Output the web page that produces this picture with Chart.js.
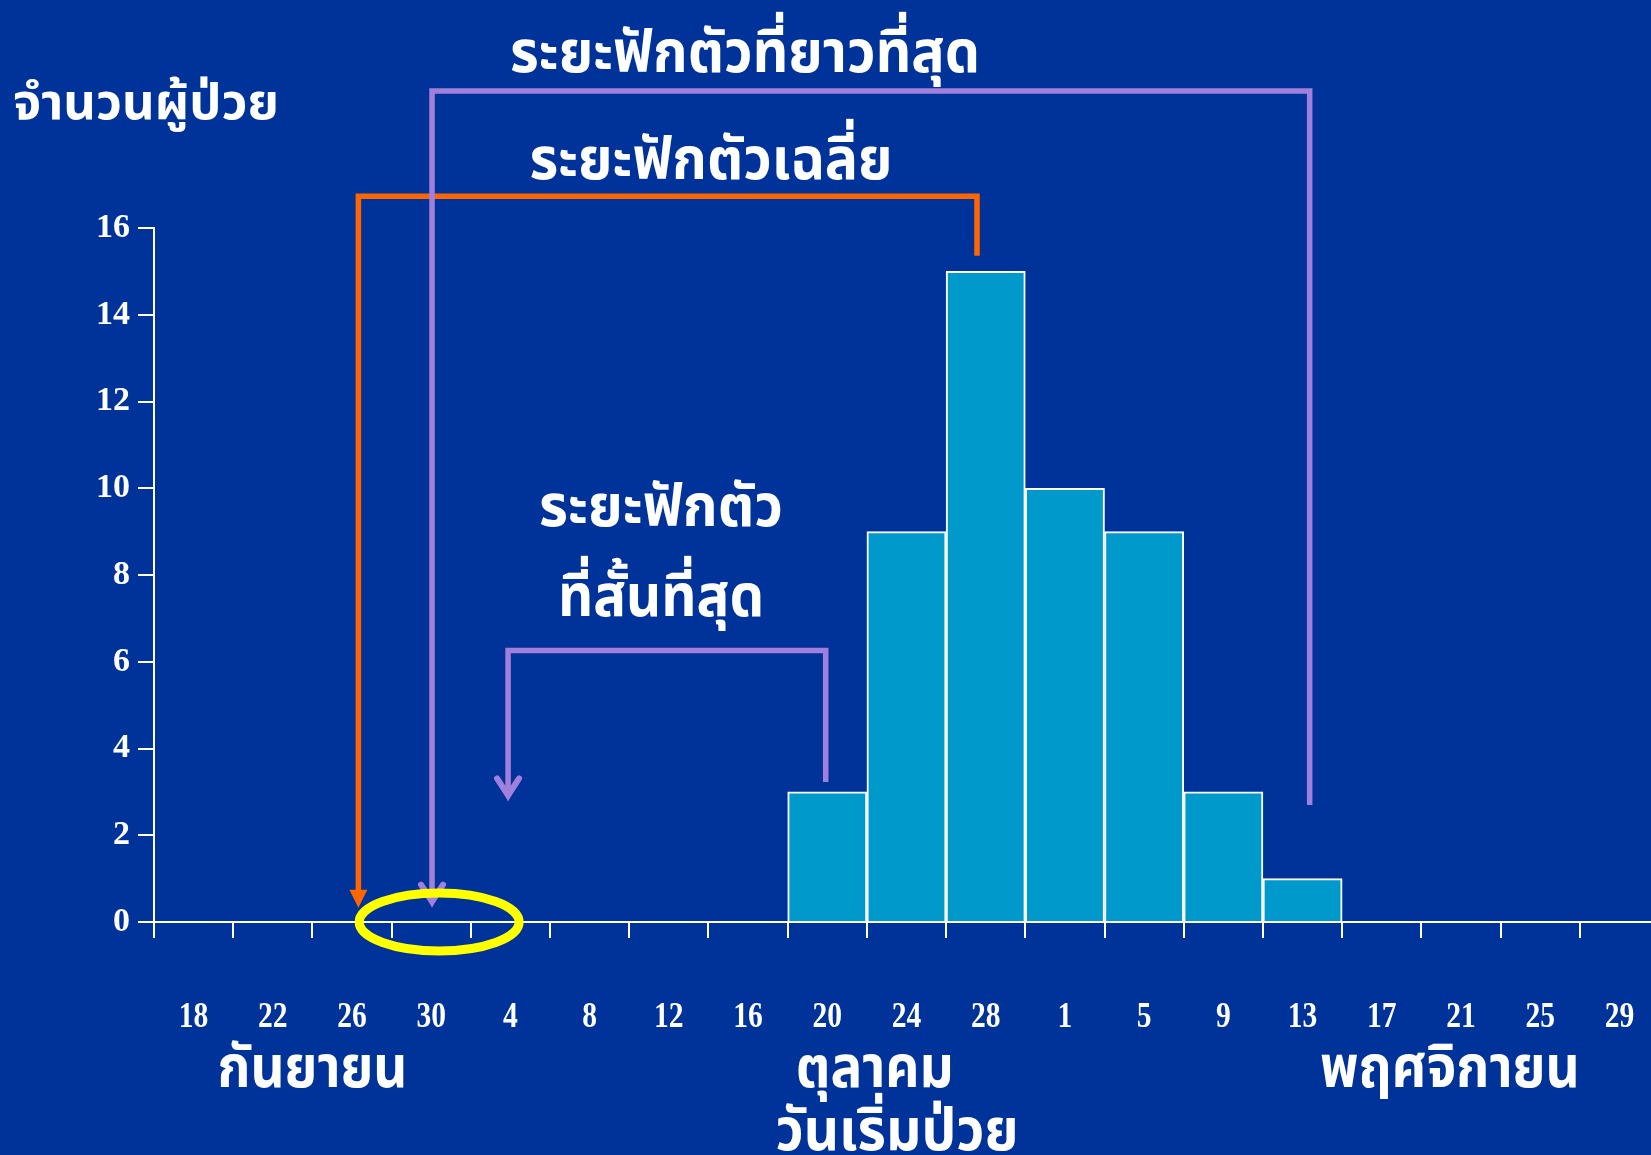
<!DOCTYPE html>
<html lang="th">
<head>
  <meta charset="UTF-8" />
  <title>Epidemic curve</title>
  <script src="https://cdn.jsdelivr.net/npm/chart.js"></script>
  <style>
    html, body { margin: 0; padding: 0; background: #003399; overflow: hidden; }
    #wrap { position: absolute; left: 0; top: 0; width: 1680px; height: 1155px; }
  </style>
</head>
<body>
  <div id="wrap"><canvas id="epiChart" width="1680" height="1155"></canvas></div>

  <script>
    // onset day (4-day bins) and number of patients
    const dayLabels = ['18', '22', '26', '30', '4', '8', '12', '16', '20', '24', '28', '1', '5', '9', '13', '17', '21', '25', '29'];
    const patientCounts = [0, 0, 0, 0, 0, 0, 0, 0, 3, 9, 15, 10, 9, 3, 1, 0, 0, 0, 0];
    const yTickMin = 0, yTickMax = 16, yTickStep = 2;

    const yTitle = 'จำนวนผู้ป่วย';
    const xTitle = 'วันเริ่มป่วย';
    const monthNames = ['กันยายน', 'ตุลาคม', 'พฤศจิกายน'];
    const monthCenters = [1.5, 8.6, 15.86];   // in bin index units

    const thaiFont = '"Noto Sans Thai", "Noto Sans", "DejaVu Sans", sans-serif';
    const numFont = '"Liberation Serif", "Times New Roman", serif';

    // draw text squeezed to a given width, baseline at y
    function squeezeText(ctx, text, cx, baseY, size, width, align) {
      ctx.save();
      ctx.font = 'bold ' + size + 'px ' + thaiFont;
      ctx.fillStyle = '#ffffff';
      ctx.textBaseline = 'alphabetic';
      ctx.textAlign = 'left';
      const w = ctx.measureText(text).width;
      const k = width / w;
      const left = align === 'left' ? cx : cx - width / 2;
      ctx.translate(left, baseY);
      ctx.scale(k, 1);
      ctx.fillText(text, 0, 0);
      ctx.restore();
    }

    function arrowHead(ctx, x, y, color, filled) {
      ctx.save();
      ctx.strokeStyle = color;
      ctx.fillStyle = color;
      if (filled) {
        ctx.beginPath();
        ctx.moveTo(x - 9, y - 18);
        ctx.lineTo(x + 9, y - 18);
        ctx.lineTo(x, y);
        ctx.closePath();
        ctx.fill();
      } else {
        ctx.lineWidth = 6;
        ctx.lineCap = 'round';
        ctx.lineJoin = 'miter';
        ctx.beginPath();
        ctx.moveTo(x - 11, y - 23);
        ctx.lineTo(x, y - 6);
        ctx.lineTo(x + 11, y - 23);
        ctx.stroke();
        ctx.beginPath();
        ctx.moveTo(x - 4, y - 10);
        ctx.lineTo(x, y);
        ctx.lineTo(x + 4, y - 10);
        ctx.closePath();
        ctx.fill();
      }
      ctx.restore();
    }

    const annotations = {
      id: 'annotations',
      afterDraw(chart) {
        const { ctx, scales: { x, y } } = chart;
        const px = v => x.getPixelForValue(v);
        const py = v => y.getPixelForValue(v);

        // day tick labels, narrow serif like the original
        ctx.save();
        ctx.font = 'bold 36px ' + numFont;
        ctx.fillStyle = '#ffffff';
        ctx.textAlign = 'center';
        ctx.textBaseline = 'alphabetic';
        x.ticks.forEach((t, i) => {
          ctx.save();
          ctx.translate(x.getPixelForTick(i), 1027);
          ctx.scale(0.82, 1);
          ctx.fillText(x.getLabelForValue(t.value), 0, 0);
          ctx.restore();
        });
        ctx.restore();

        function bracket(x1, x2, top, tipY, endY, color, filled) {
          ctx.save();
          ctx.strokeStyle = color;
          ctx.lineWidth = 5.5;
          ctx.beginPath();
          ctx.moveTo(px(x1), py(tipY) - 12);
          ctx.lineTo(px(x1), py(top));
          ctx.lineTo(px(x2), py(top));
          ctx.lineTo(px(x2), py(endY));
          ctx.stroke();
          ctx.restore();
          arrowHead(ctx, px(x1), py(tipY), color, filled);
        }

        // average incubation (orange), longest and shortest (purple)
        bracket(2.08, 9.89, 16.73, 0.33, 15.36, '#ff6600', true);
        bracket(3.01, 14.09, 19.16, 0.33, 2.70, '#a080dc', false);
        bracket(3.97, 7.98, 6.26, 2.78, 3.23, '#a080dc', false);

        // yellow ring round the exposure days
        ctx.save();
        ctx.strokeStyle = '#ffff00';
        ctx.lineWidth = 9;
        ctx.beginPath();
        ctx.ellipse(px(3.10), py(0), 80, 29, 0, 0, Math.PI * 2);
        ctx.stroke();
        ctx.restore();

        // texts
        squeezeText(ctx, 'ระยะฟักตัวที่ยาวที่สุด', 745, 72, 58, 470);
        squeezeText(ctx, 'ระยะฟักตัวเฉลี่ย', 711, 179, 58, 363);
        squeezeText(ctx, 'ระยะฟักตัว', 661, 526, 58, 244);
        squeezeText(ctx, 'ที่สั้นที่สุด', 661, 616, 58, 206);
        squeezeText(ctx, yTitle, 13, 119, 50, 266, 'left');

        const monthWidths = [190, 158, 260];
        monthNames.forEach((m, i) => {
          squeezeText(ctx, m, px(monthCenters[i]), 1087, 58, monthWidths[i]);
        });
        squeezeText(ctx, xTitle, 897, 1150, 58, 243);
      }
    };

    new Chart(document.getElementById('epiChart'), {
      type: 'bar',
      data: {
        labels: dayLabels,
        datasets: [{
          data: patientCounts,
          backgroundColor: '#0099cc',
          borderColor: '#ffffff',
          borderWidth: 2,
          barPercentage: 1,
          categoryPercentage: 1
        }]
      },
      options: {
        responsive: false,
        animation: false,
        layout: { padding: { left: 0, top: 228, right: 21, bottom: 0 } },
        plugins: { legend: { display: false }, tooltip: { enabled: false } },
        scales: {
          x: {
            offset: true,
            grid: {
              offset: true,
              drawOnChartArea: false,
              drawTicks: true,
              tickLength: 16,
              color: '#ffffff',
              lineWidth: 2
            },
            border: { color: '#ffffff', width: 2 },
            ticks: {
              color: 'rgba(0,0,0,0)',
              font: { family: numFont, size: 36, weight: 'bold' },
              padding: 0,
              maxRotation: 0,
              autoSkip: false
            },
            afterFit(scale) { scale.height = 1155 - 922; }
          },
          y: {
            min: yTickMin,
            max: yTickMax,
            grid: {
              drawOnChartArea: false,
              drawTicks: true,
              tickLength: 16,
              color: '#ffffff',
              lineWidth: 2
            },
            border: { color: '#ffffff', width: 2 },
            ticks: {
              stepSize: yTickStep,
              color: '#ffffff',
              font: { family: numFont, size: 34, weight: 'bold' },
              padding: 8
            },
            afterFit(scale) { scale.width = 154; }
          }
        }
      },
      plugins: [annotations]
    });
  </script>
</body>
</html>
